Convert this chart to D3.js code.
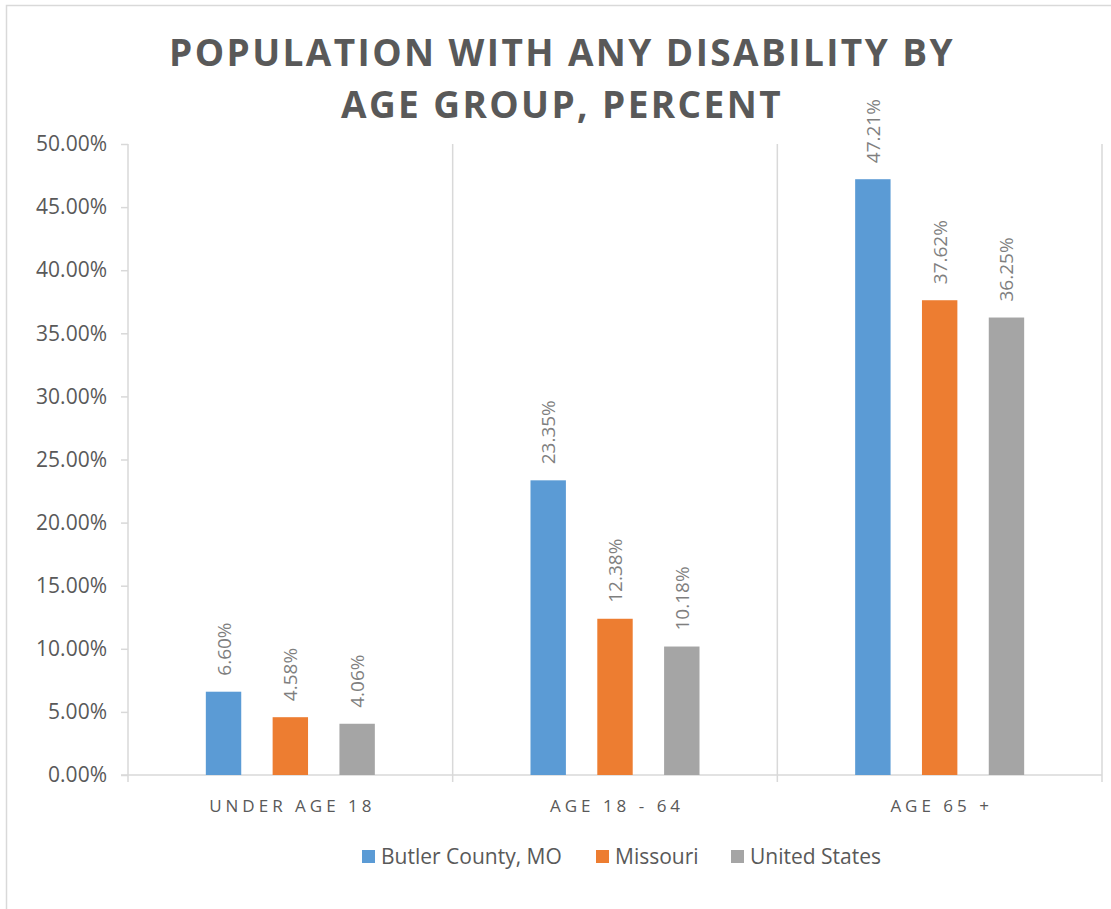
<!DOCTYPE html>
<html>
<head>
<meta charset="utf-8">
<script src="https://cdn.jsdelivr.net/npm/d3@7"></script>
<style>
  body { margin: 0; background: #fff; }
  text { font-family: "Open Sans", sans-serif; }
</style>
</head>
<body>
<script>
// chart data
var categories = ["UNDER AGE 18", "AGE 18 - 64", "AGE 65 +"];
var seriesNames = ["Butler County, MO", "Missouri", "United States"];
var butler = [6.60, 23.35, 47.21];
var missouri = [4.58, 12.38, 37.62];
var us = [4.06, 10.18, 36.25];
var yTicks = [0, 5, 10, 15, 20, 25, 30, 35, 40, 45, 50];
var colors = ["#5b9bd5", "#ed7d31", "#a5a5a5"];

var seriesValues = [butler, missouri, us];

var W = 1111, H = 909;
var svg = d3.select("body").append("svg")
  .attr("width", W)
  .attr("height", H);

// outer chart border (only left and top fall inside the picture)
svg.append("rect")
  .attr("x", 6.5)
  .attr("y", 5.5)
  .attr("width", W + 20)
  .attr("height", H + 20)
  .attr("fill", "none")
  .attr("stroke", "#d9d9d9")
  .attr("stroke-width", 1.5);

var plotLeft = 128, plotRight = 1102, plotTop = 144, plotBottom = 775;

var x0 = d3.scaleBand()
  .domain(categories)
  .range([plotLeft, plotRight])
  .padding(0);

var x1 = d3.scaleBand()
  .domain(seriesNames)
  .range([0, x0.bandwidth()])
  .paddingInner(0.47)
  .paddingOuter(1.165);

var y = d3.scaleLinear()
  .domain([0, 50])
  .range([plotBottom, plotTop]);

// title
var title = svg.append("text")
  .attr("text-anchor", "middle")
  .attr("fill", "#595959")
  .attr("font-size", 37)
  .attr("font-weight", 700)
  .attr("letter-spacing", 2.4);
title.append("tspan").attr("x", 562).attr("y", 66).text("POPULATION WITH ANY DISABILITY BY");
title.append("tspan").attr("x", 562).attr("y", 118).text("AGE GROUP, PERCENT");

// vertical separators between categories (with tick below axis)
var seps = categories.map(function(c) { return x0(c); }).concat([plotRight]);
svg.append("g").selectAll("line")
  .data(seps)
  .join("line")
  .attr("x1", function(d) { return d; })
  .attr("x2", function(d) { return d; })
  .attr("y1", plotTop)
  .attr("y2", plotBottom + 7)
  .attr("stroke", "#d9d9d9")
  .attr("stroke-width", 1.5);

// y axis
var yAxis = svg.append("g")
  .attr("transform", "translate(" + plotLeft + ",0)")
  .call(d3.axisLeft(y).tickValues(yTicks).tickSize(7).tickPadding(14)
    .tickFormat(function(d) { return d.toFixed(2) + "%"; }));
yAxis.select(".domain").remove();
yAxis.selectAll(".tick line").attr("stroke", "#d9d9d9").attr("stroke-width", 1.5);
yAxis.selectAll(".tick text")
  .attr("fill", "#595959")
  .attr("font-size", 21)
  .attr("font-family", "'Open Sans', sans-serif");

// x axis line
svg.append("line")
  .attr("x1", plotLeft - 7)
  .attr("x2", plotRight)
  .attr("y1", plotBottom)
  .attr("y2", plotBottom)
  .attr("stroke", "#d9d9d9")
  .attr("stroke-width", 1.5);

// category labels
svg.append("g").selectAll("text")
  .data(categories)
  .join("text")
  .attr("x", function(d) { return x0(d) + x0.bandwidth() / 2 + 2; })
  .attr("y", 812)
  .attr("text-anchor", "middle")
  .attr("fill", "#595959")
  .attr("font-size", 17)
  .attr("letter-spacing", 4)
  .text(function(d) { return d; });

// bars
var groups = svg.append("g").selectAll("g")
  .data(categories)
  .join("g")
  .attr("transform", function(d) { return "translate(" + x0(d) + ",0)"; });

groups.selectAll("rect")
  .data(function(c, i) {
    return seriesNames.map(function(s, j) { return { s: s, j: j, v: seriesValues[j][i] }; });
  })
  .join("rect")
  .attr("x", function(d) { return x1(d.s); })
  .attr("y", function(d) { return y(d.v); })
  .attr("width", x1.bandwidth())
  .attr("height", function(d) { return y(0) - y(d.v); })
  .attr("fill", function(d) { return colors[d.j]; });

// data labels, rotated
groups.selectAll("text")
  .data(function(c, i) {
    return seriesNames.map(function(s, j) { return { s: s, j: j, v: seriesValues[j][i] }; });
  })
  .join("text")
  .attr("transform", function(d) {
    return "translate(" + (x1(d.s) + x1.bandwidth() / 2 + 7) + "," + (y(d.v) - 16) + ") rotate(-90)";
  })
  .attr("fill", "#7f7f7f")
  .attr("font-size", 19)
  .text(function(d) { return d.v.toFixed(2) + "%"; });

// legend
var legendItems = [
  { name: seriesNames[0], x: 362 },
  { name: seriesNames[1], x: 596 },
  { name: seriesNames[2], x: 731 }
];
var lg = svg.append("g").selectAll("g")
  .data(legendItems)
  .join("g")
  .attr("transform", function(d) { return "translate(" + d.x + ",850)"; });
lg.append("rect")
  .attr("width", 13)
  .attr("height", 13)
  .attr("fill", function(d, i) { return colors[i]; });
lg.append("text")
  .attr("x", 19)
  .attr("y", 13.5)
  .attr("fill", "#595959")
  .attr("font-size", 21)
  .text(function(d) { return d.name; });
</script>
</body>
</html>
